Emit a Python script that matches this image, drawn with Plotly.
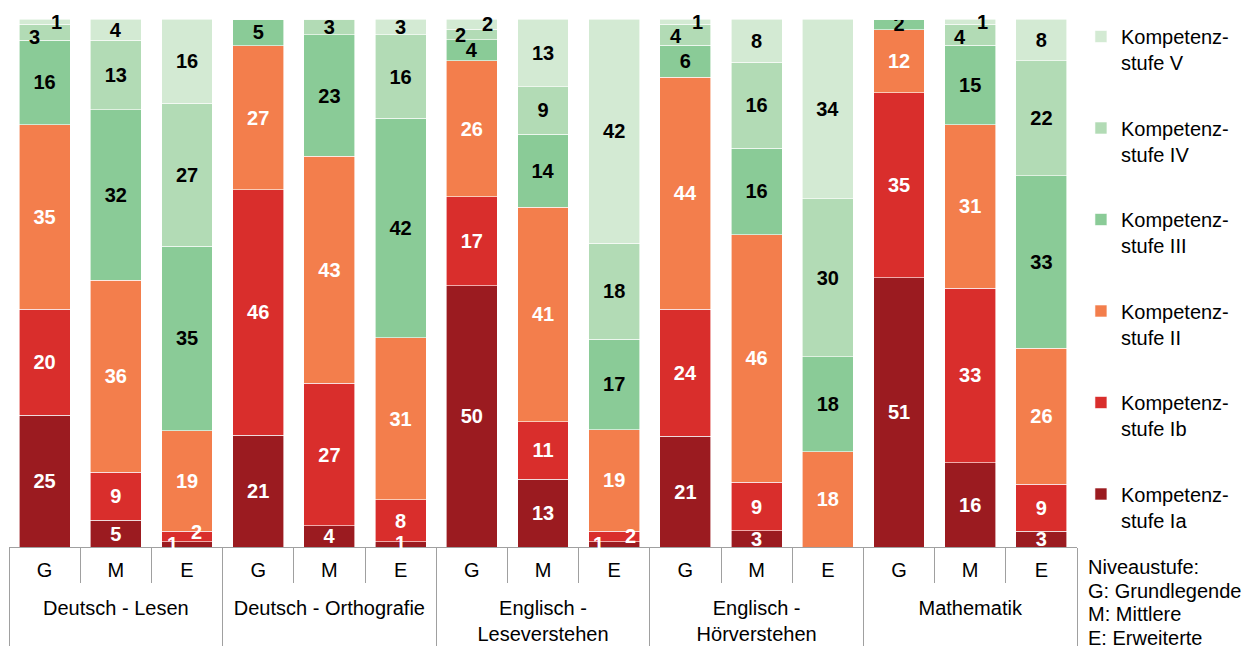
import plotly.graph_objects as go

subjects = ["Deutsch - Lesen", "Deutsch - Orthografie", "Englisch -<br>Leseverstehen",
            "Englisch -<br>Hörverstehen", "Mathematik"]
levels = ["G", "M", "E"]
stufen = ["Kompetenz-<br>stufe Ia", "Kompetenz-<br>stufe Ib", "Kompetenz-<br>stufe II",
          "Kompetenz-<br>stufe III", "Kompetenz-<br>stufe IV", "Kompetenz-<br>stufe V"]

stufe_ia = [25, 5, 1, 21, 4, 1, 50, 13, 1, 21, 3, 0, 51, 16, 3]
stufe_ib = [20, 9, 2, 46, 27, 8, 17, 11, 2, 24, 9, 0, 35, 33, 9]
stufe_ii = [35, 36, 19, 27, 43, 31, 26, 41, 19, 44, 46, 18, 12, 31, 26]
stufe_iii = [16, 32, 35, 5, 23, 42, 4, 14, 17, 6, 16, 18, 2, 15, 33]
stufe_iv = [3, 13, 27, 0, 3, 16, 2, 9, 18, 4, 16, 30, 0, 4, 22]
stufe_v = [1, 4, 16, 0, 0, 3, 2, 13, 42, 1, 8, 34, 0, 1, 8]

colors = ["#9B1B20", "#D92E2C", "#F37E4C", "#8ACB97", "#B2DBB5", "#D3EAD3"]
text_colors = ["white", "white", "white", "black", "black", "black"]

# labels of tiny segments placed as annotations: (bar index, stufe index) -> (xshift, yshift)
shifted = {(0, 4): (-10, -5), (0, 5): (12, 0), (2, 0): (-15, 0), (2, 1): (9, 4),
           (5, 0): (0, 1),
           (6, 4): (-11, 0), (6, 5): (16, 0), (8, 0): (-16, 0), (8, 1): (16, 0),
           (9, 4): (-9, -1), (9, 5): (12, 0), (13, 4): (-10, -2), (13, 5): (12, 0)}

series = [stufe_ia, stufe_ib, stufe_ii, stufe_iii, stufe_iv, stufe_v]
FONT = "Liberation Sans, Arial, sans-serif"

x_outer = [s for s in subjects for _ in levels]
# tall blank spans around each level letter only reserve room so the subject row sits lower
pad = "<span style='font-size:36px'>\u00a0</span>"
x_inner = [pad + l + pad for _ in subjects for l in levels]
totals = [sum(s[j] for s in series) for j in range(len(x_inner))]

fig = go.Figure()
annotations = []
for k, (name, vals) in enumerate(zip(stufen, series)):
    texts = []
    for j, v in enumerate(vals):
        if v <= 0 or (j, k) in shifted:
            texts.append("")
        else:
            texts.append(str(v))
        if v > 0 and (j, k) in shifted:
            below = sum(series[m][j] for m in range(k))
            dx, dy = shifted[(j, k)]
            annotations.append(dict(
                x=j, y=(below + v / 2) / totals[j] * 100, xref="x", yref="y",
                text=f"<b>{v}</b>", showarrow=False, xshift=dx, yshift=dy,
                font=dict(family=FONT, size=20, color=text_colors[k])))
    fig.add_trace(go.Bar(
        x=[x_outer, x_inner], y=vals, name=name, legendgroup=name,
        legendrank=1000 - k,
        marker=dict(color=colors[k], line=dict(color="white", width=0.6)),
        text=texts, texttemplate="<b>%{text}</b>", textposition="inside",
        insidetextanchor="middle", textangle=0,
        textfont=dict(family=FONT, size=20, color=text_colors[k]),
        hoverinfo="skip"))

note_lines = ["Niveaustufe:", "G: Grundlegende", "M: Mittlere", "E: Erweiterte"]
for i, line in enumerate(note_lines):
    annotations.append(dict(
        x=1.0084, y=-0.038 - i * 0.0445, xref="paper", yref="paper", xanchor="left",
        yanchor="middle", text=line, showarrow=False, align="left",
        font=dict(family=FONT, size=20, color="black")))

fig.update_layout(
    width=1254, height=646,
    margin=dict(l=9, r=177, t=19, b=99),
    barmode="stack", barnorm="percent", bargap=0.284,
    plot_bgcolor="white", paper_bgcolor="white",
    font=dict(family=FONT, size=20, color="black"),
    uniformtext=dict(minsize=20, mode="show"),
    showlegend=True,
    legend=dict(x=1.0037, xanchor="left", y=1.0038, yanchor="top",
                traceorder="grouped", tracegroupgap=36.5, valign="top",
                maxheight=640,
                font=dict(family=FONT, size=20, color="black"),
                bgcolor="rgba(0,0,0,0)"),
    annotations=annotations,
)
fig.update_xaxes(
    type="multicategory", showline=True, linecolor="#A0A0A0", linewidth=1,
    ticks="outside", ticklen=35, tickcolor="#A0A0A0", tickwidth=1,
    tickson="boundaries", ticklabelstandoff=5,
    showdividers=True, dividercolor="#A0A0A0", dividerwidth=1,
    tickfont=dict(family=FONT, size=20, color="black"), showgrid=False,
    automargin=False,
)
fig.update_yaxes(visible=False, range=[0, 100])

fig.write_html("out.html", config={"displayModeBar": False},
               post_script="document.body.style.margin='0';document.body.style.overflow='hidden';")
